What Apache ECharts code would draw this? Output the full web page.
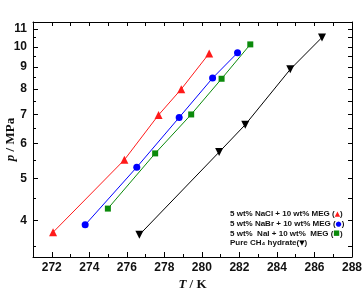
<!DOCTYPE html>
<html>
<head>
<meta charset="utf-8">
<script src="https://cdn.jsdelivr.net/npm/echarts@6/dist/echarts.min.js"></script>
<style>
  html, body { margin: 0; padding: 0; background: #fff; }
  #chart { width: 362px; height: 291px; }
</style>
</head>
<body>
<div id="chart"></div>
<script>
// hydrate equilibrium data, T in K, p in MPa
const naclT = [272.07, 275.87, 277.69, 278.90, 280.39];
const naclP = [3.76, 5.51, 6.98, 8.00, 9.66];
const nabrT = [273.78, 276.53, 278.79, 280.57, 281.90];
const nabrP = [3.91, 5.30, 6.89, 8.48, 9.69];
const naiT = [274.99, 277.51, 279.43, 281.05, 282.58];
const naiP = [4.26, 5.70, 7.00, 8.45, 10.13];
const pureT = [276.67, 280.92, 282.31, 284.71, 286.40];
const pureP = [3.71, 5.74, 6.63, 8.88, 10.51];

const xLabels = [272, 274, 276, 278, 280, 282, 284, 286, 288];
const yLabels = [4, 5, 6, 7, 8, 9, 10, 11];
const yMinor = [3.5, 4.5, 5.5, 6.5, 7.5, 8.5, 9.5, 10.5];
const yAll = [3.5, 4, 4.5, 5, 5.5, 6, 6.5, 7, 7.5, 8, 8.5, 9, 9.5, 10, 10.5, 11];

const legendLines = [
    ['5 wt% NaCl + 10 wt% MEG (', '▲', ')', '#ff1a1a'],
    ['5 wt% NaBr + 10 wt% MEG (', '●', ')', '#0000ff'],
    ['5 wt%  NaI + 10 wt%  MEG (', '■', ')', '#0b8a0b'],
    ['Pure CH₄ hydrate(', '▼', ')', '#000000']
];

function pairs(xs, ys) {
    return xs.map((x, i) => [x, ys[i]]);
}

const chart = echarts.init(document.getElementById('chart'));

const labelFont = { fontFamily: 'Liberation Sans, Arial', fontWeight: 'bold', fontSize: 12, color: '#111' };
const blackLine = { show: true, lineStyle: { color: '#000', width: 1 } };
const nameFont = {
    fontFamily: 'Liberation Serif, Times New Roman', fontWeight: 'bold', fontSize: 13, color: '#111',
    rich: { i: { fontFamily: 'Liberation Serif', fontStyle: 'italic', fontWeight: 'bold', fontSize: 13, color: '#111' } }
};

function series(name, xs, ys, color, symbol, size, rotate) {
    return {
        name: name,
        type: 'line',
        data: pairs(xs, ys),
        symbol: symbol,
        symbolSize: size,
        symbolRotate: rotate || 0,
        showAllSymbol: true,
        lineStyle: { color: color, width: 1 },
        itemStyle: { color: color },
        z: 5
    };
}

const option = {
    animation: false,
    grid: { left: 33, top: 22, right: 10, bottom: 34, outerBoundsMode: 'none' },
    xAxis: [{
        type: 'value', min: 271, max: 288, position: 'bottom',
        axisLine: blackLine,
        axisTick: { inside: true, length: 5, lineStyle: { color: '#000' }, customValues: xLabels },
        axisLabel: Object.assign({ margin: 5, customValues: xLabels }, labelFont),
        splitLine: { show: false },
        name: '{i|T} / K', nameLocation: 'middle', nameGap: 21, nameMoveOverlap: false,
        nameTextStyle: nameFont
    }, {
        type: 'value', min: 271, max: 288, interval: 1, position: 'bottom',
        axisLine: { show: false },
        axisTick: { inside: true, length: 3, lineStyle: { color: '#000' } },
        axisLabel: { show: false },
        splitLine: { show: false }
    }, {
        type: 'value', min: 271, max: 288, interval: 1, position: 'top',
        axisLine: blackLine,
        axisTick: { inside: true, length: 4, lineStyle: { color: '#000' } },
        axisLabel: { show: false },
        splitLine: { show: false }
    }],
    yAxis: [{
        type: 'log', logBase: 10, min: 3.3, max: 11.4, position: 'left',
        axisLine: blackLine,
        axisTick: { inside: true, length: 5, lineStyle: { color: '#000' }, customValues: yLabels },
        axisLabel: Object.assign({ margin: 6, customValues: yLabels }, labelFont),
        splitLine: { show: false },
        name: '{i|p} / MPa', nameLocation: 'middle', nameGap: 16, nameMoveOverlap: false,
        nameTextStyle: nameFont
    }, {
        type: 'log', logBase: 10, min: 3.3, max: 11.4, position: 'left',
        axisLine: { show: false },
        axisTick: { inside: true, length: 3, lineStyle: { color: '#000' }, customValues: yMinor },
        axisLabel: { show: false, customValues: yMinor },
        splitLine: { show: false }
    }, {
        type: 'log', logBase: 10, min: 3.3, max: 11.4, position: 'right',
        axisLine: blackLine,
        axisTick: { inside: true, length: 4, lineStyle: { color: '#000' }, customValues: yAll },
        axisLabel: { show: false, customValues: yAll },
        splitLine: { show: false }
    }],
    series: [
        series('NaCl', naclT, naclP, '#ff1a1a', 'triangle', 8),
        series('NaBr', nabrT, nabrP, '#0000ff', 'circle', 7),
        series('NaI', naiT, naiP, '#0b8a0b', 'rect', 6),
        series('Pure', pureT, pureP, '#000000', 'triangle', 8, 180)
    ],
    graphic: legendLines.map((l, i) => ({
        type: 'text',
        left: 230,
        top: 210 + i * 9.7,
        z: 10,
        style: {
            text: '{t|' + l[0] + '}{s|' + l[1] + '}{t|' + l[2] + '}',
            rich: {
                t: { fontFamily: 'Liberation Sans, Arial', fontWeight: 'bold', fontSize: 8, fill: '#111' },
                s: { fontFamily: 'DejaVu Sans', fontSize: 7, fill: l[3] }
            }
        }
    }))
};

chart.setOption(option);
</script>
</body>
</html>
